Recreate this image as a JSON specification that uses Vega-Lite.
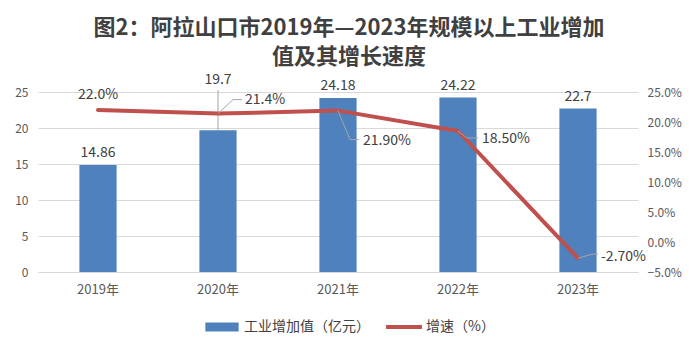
{
  "$schema": "https://vega.github.io/schema/vega-lite/v6.json",
  "width": 600,
  "height": 180,
  "autosize": {"type": "none"},
  "padding": {"left": 38, "top": 92, "right": 60, "bottom": 80},
  "background": "white",
  "config": {
    "font": "Noto Sans CJK SC",
    "view": {"stroke": null},
    "text": {"font": "Noto Sans CJK SC", "fontSize": 14, "fill": "#404040", "baseline": "middle"}
  },
  "title": {
    "text": ["图2：阿拉山口市2019年—2023年规模以上工业增加", "值及其增长速度"],
    "fontSize": 22,
    "fontWeight": "bold",
    "color": "#404040",
    "lineHeight": 29,
    "anchor": "middle",
    "dx": 11,
    "offset": 4,
    "font": "Noto Sans CJK SC"
  },
  "datasets": {
    "d": [
      {"year": "2019年", "value": 14.86, "growth": 22.0, "gLabel": "22.0%"},
      {"year": "2020年", "value": 19.7, "growth": 21.4, "gLabel": "21.4%"},
      {"year": "2021年", "value": 24.18, "growth": 21.9, "gLabel": "21.90%"},
      {"year": "2022年", "value": 24.22, "growth": 18.5, "gLabel": "18.50%"},
      {"year": "2023年", "value": 22.7, "growth": -2.7, "gLabel": "-2.70%"}
    ]
  },
  "data": {"name": "d"},
  "encoding": {
    "x": {
      "field": "year",
      "type": "nominal",
      "sort": null,
      "scale": {"paddingInner": 0.69, "paddingOuter": 0.345},
      "axis": {
        "title": null,
        "labelAngle": 0,
        "domainColor": "#d9d9d9",
        "ticks": false,
        "labelPadding": 11,
        "labelFontSize": 13,
        "labelColor": "#595959",
        "labelFont": "Noto Sans CJK SC"
      }
    }
  },
  "layer": [
    {
      "encoding": {
        "y": {
          "field": "value",
          "type": "quantitative",
          "scale": {"domain": [0, 25], "nice": false},
          "axis": {
            "title": null,
            "values": [0, 5, 10, 15, 20, 25],
            "grid": true,
            "gridColor": "#d9d9d9",
            "domain": false,
            "ticks": false,
            "labelPadding": 10,
            "labelFontSize": 12,
            "labelColor": "#595959",
            "labelFont": "Noto Sans CJK SC"
          }
        }
      },
      "layer": [
        {
          "mark": {"type": "bar"},
          "encoding": {
            "color": {
              "datum": "工业增加值（亿元）",
              "scale": {"domain": ["工业增加值（亿元）", "增速（%）"], "range": ["#4F81BD", "#C0504D"]},
              "legend": {
                "title": null,
                "orient": "none",
                "legendX": 175,
                "legendY": 226,
                "direction": "horizontal",
                "labelFontSize": 14,
                "labelColor": "#404040",
                "labelFont": "Noto Sans CJK SC",
                "symbolSize": 324,
                "labelOffset": 13,
                "columnPadding": 16,
                "encode": {
                  "symbols": {
                    "update": {
                      "shape": {"signal": "datum.value === '增速（%）' ? 'M-2,-0.22H2V0.22H-2Z' : 'M-1.85,-0.5H1.85V0.5H-1.85Z'"},
                      "fill": {"signal": "datum.value === '增速（%）' ? '#C0504D' : '#4F81BD'"},
                      "strokeWidth": {"value": 0},
                      "opacity": {"value": 1}
                    }
                  }
                }
              }
            }
          }
        },
        {
          "transform": [{"filter": "datum.year !== '2020年'"}],
          "mark": {"type": "text", "dy": -12},
          "encoding": {"text": {"field": "value", "type": "quantitative"}}
        },
        {
          "transform": [{"filter": "datum.year === '2020年'"}],
          "mark": {"type": "text", "dy": -50},
          "encoding": {"text": {"field": "value", "type": "quantitative"}}
        },
        {
          "transform": [{"filter": "datum.year === '2020年'"}],
          "mark": {"type": "rule", "color": "#a6a6a6", "strokeWidth": 1, "y2Offset": -40},
          "encoding": {
            "x": {"field": "year", "type": "nominal", "sort": null, "bandPosition": 0.5},
            "y2": {"field": "value"}
          }
        }
      ]
    },
    {
      "encoding": {
        "y": {
          "field": "growth",
          "type": "quantitative",
          "scale": {"domain": [-5, 25], "nice": false},
          "axis": {
            "orient": "right",
            "title": null,
            "values": [-5, 0, 5, 10, 15, 20, 25],
            "labelExpr": "format(datum.value, '.1f') + '%'",
            "grid": false,
            "domain": false,
            "ticks": false,
            "labelPadding": 9,
            "labelFontSize": 12,
            "labelColor": "#595959",
            "labelFont": "Noto Sans CJK SC"
          }
        }
      },
      "layer": [
        {
          "mark": {"type": "line", "strokeWidth": 4, "strokeCap": "round", "strokeJoin": "round"},
          "encoding": {"color": {"datum": "增速（%）"}}
        },
        {
          "transform": [{"filter": "datum.year === '2019年'"}],
          "mark": {"type": "text", "dy": -15},
          "encoding": {"text": {"field": "gLabel", "type": "nominal"}}
        },
        {
          "transform": [{"filter": "datum.year === '2020年'"}],
          "mark": {"type": "text", "align": "left", "dx": 27, "dy": -14},
          "encoding": {"text": {"field": "gLabel", "type": "nominal"}}
        },
        {
          "transform": [{"filter": "datum.year === '2021年'"}],
          "mark": {"type": "text", "align": "left", "dx": 25, "dy": 30},
          "encoding": {"text": {"field": "gLabel", "type": "nominal"}}
        },
        {
          "transform": [{"filter": "datum.year === '2022年'"}],
          "mark": {"type": "text", "align": "left", "dx": 24, "dy": 8},
          "encoding": {"text": {"field": "gLabel", "type": "nominal"}}
        },
        {
          "transform": [{"filter": "datum.year === '2023年'"}],
          "mark": {"type": "text", "align": "left", "dx": 23, "dy": -1},
          "encoding": {"text": {"field": "gLabel", "type": "nominal"}}
        },
        {
          "transform": [{"filter": "datum.year === '2020年'"}],
          "mark": {"type": "rule", "color": "#a6a6a6", "strokeWidth": 1, "x2Offset": 15, "y2Offset": -14},
          "encoding": {
            "x": {"field": "year", "type": "nominal", "sort": null, "bandPosition": 0.5},
            "x2": {"field": "year", "bandPosition": 0.5},
            "y2": {"field": "growth"}
          }
        },
        {
          "transform": [{"filter": "datum.year === '2020年'"}],
          "mark": {"type": "rule", "color": "#a6a6a6", "strokeWidth": 1, "xOffset": 15, "yOffset": -14, "x2Offset": 24, "y2Offset": -14},
          "encoding": {
            "x": {"field": "year", "type": "nominal", "sort": null, "bandPosition": 0.5},
            "x2": {"field": "year", "bandPosition": 0.5},
            "y2": {"field": "growth"}
          }
        },
        {
          "transform": [{"filter": "datum.year === '2021年'"}],
          "mark": {"type": "rule", "color": "#a6a6a6", "strokeWidth": 1, "x2Offset": 12, "y2Offset": 29},
          "encoding": {
            "x": {"field": "year", "type": "nominal", "sort": null, "bandPosition": 0.5},
            "x2": {"field": "year", "bandPosition": 0.5},
            "y2": {"field": "growth"}
          }
        },
        {
          "transform": [{"filter": "datum.year === '2021年'"}],
          "mark": {"type": "rule", "color": "#a6a6a6", "strokeWidth": 1, "xOffset": 12, "yOffset": 29, "x2Offset": 21, "y2Offset": 29},
          "encoding": {
            "x": {"field": "year", "type": "nominal", "sort": null, "bandPosition": 0.5},
            "x2": {"field": "year", "bandPosition": 0.5},
            "y2": {"field": "growth"}
          }
        },
        {
          "transform": [{"filter": "datum.year === '2022年'"}],
          "mark": {"type": "rule", "color": "#a6a6a6", "strokeWidth": 1, "x2Offset": 9, "y2Offset": 7},
          "encoding": {
            "x": {"field": "year", "type": "nominal", "sort": null, "bandPosition": 0.5},
            "x2": {"field": "year", "bandPosition": 0.5},
            "y2": {"field": "growth"}
          }
        },
        {
          "transform": [{"filter": "datum.year === '2022年'"}],
          "mark": {"type": "rule", "color": "#a6a6a6", "strokeWidth": 1, "xOffset": 9, "yOffset": 7, "x2Offset": 20, "y2Offset": 7},
          "encoding": {
            "x": {"field": "year", "type": "nominal", "sort": null, "bandPosition": 0.5},
            "x2": {"field": "year", "bandPosition": 0.5},
            "y2": {"field": "growth"}
          }
        },
        {
          "transform": [{"filter": "datum.year === '2023年'"}],
          "mark": {"type": "rule", "color": "#a6a6a6", "strokeWidth": 1, "x2Offset": 14, "y2Offset": -4},
          "encoding": {
            "x": {"field": "year", "type": "nominal", "sort": null, "bandPosition": 0.5},
            "x2": {"field": "year", "bandPosition": 0.5},
            "y2": {"field": "growth"}
          }
        },
        {
          "transform": [{"filter": "datum.year === '2023年'"}],
          "mark": {"type": "rule", "color": "#a6a6a6", "strokeWidth": 1, "xOffset": 14, "yOffset": -4, "x2Offset": 20, "y2Offset": -4},
          "encoding": {
            "x": {"field": "year", "type": "nominal", "sort": null, "bandPosition": 0.5},
            "x2": {"field": "year", "bandPosition": 0.5},
            "y2": {"field": "growth"}
          }
        }
      ]
    }
  ],
  "resolve": {"scale": {"y": "independent"}}
}
